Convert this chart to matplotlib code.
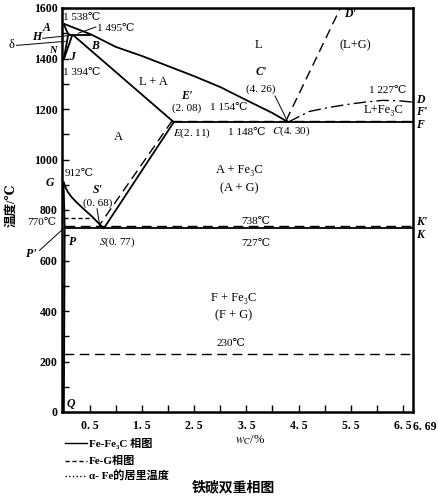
"""Fe-C double phase diagram (Fe-Fe3C solid, Fe-G dashed)."""

import matplotlib
matplotlib.use("Agg")
import matplotlib.pyplot as plt
from matplotlib.lines import Line2D
from matplotlib.ticker import MultipleLocator

plt.rcParams["font.family"] = ["Liberation Serif", "DejaVu Serif", "Noto Sans CJK SC"]
plt.rcParams["mathtext.fontset"] = "stix"

# --- Fe-Fe3C (solid) ---
liq_x = [0, 0.53, 1.0, 1.5, 2.0, 2.5, 3.0, 3.5, 4.0, 4.30]   # A-B-C liquidus
liq_T = [1538, 1495, 1446, 1410, 1370, 1330, 1287, 1235, 1184, 1148]
ah_x, ah_T = [0, 0.09], [1538, 1495]
hn_x, hn_T = [0.09, 0], [1495, 1394]
jn_x, jn_T = [0.17, 0], [1495, 1394]
hjb_x, hjb_T = [0.09, 0.53], [1495, 1495]
je_x, je_T = [0.17, 2.11], [1495, 1148]
ecf_x, ecf_T = [2.11, 6.69], [1148, 1148]
cd_x = [4.30, 4.7, 5.1, 5.5, 5.8, 6.1, 6.4, 6.69]           # dash-dot CD
cd_T = [1148, 1190, 1207, 1220, 1228, 1234, 1233, 1227]
gs_x = [0, 0.03, 0.08, 0.15, 0.25, 0.38, 0.54, 0.77]
gs_T = [912, 893, 872, 852, 830, 805, 775, 727]
gp_x, gp_T = [0, 0.0218], [912, 727]
pq_x, pq_T = [0.0218, 0.0057], [727, 0]
psk_x, psk_T = [0.0218, 6.69], [727, 727]
se_x, se_T = [0.77, 2.11], [727, 1148]

# --- Fe-G (dashed) ---
ecf_g_x, ecf_g_T = [2.08, 6.69], [1154, 1154]
cd_g_x, cd_g_T = [4.26, 5.3], [1154, 1600]
es_g_x, es_g_T = [2.08, 0.68], [1154, 738]
psk_g_x, psk_g_T = [0.02, 6.69], [738, 738]
t230_x, t230_T = [0, 6.69], [230, 230]

# --- Curie line (dotted) ---
mo_x, mo_T = [0, 0.55], [770, 770]

x_ticks = [0.5 * i for i in range(1, 14)]
x_tick_labels = ["0. 5", "", "1. 5", "", "2. 5", "", "3. 5", "", "4. 5", "",
                 "5. 5", "", "6. 5"]
y_ticks = [0, 200, 400, 600, 800, 1000, 1200, 1400, 1600]

fig = plt.figure(figsize=(4.38, 4.99), dpi=100)
ax = fig.add_axes([62 / 438, 87 / 499, 351 / 438, 404 / 499])
ax.set_xlim(-0.03, 6.69)
ax.set_ylim(0, 1600)

solid = dict(color="black", lw=1.3, solid_capstyle="butt")
dashed = dict(color="black", lw=1.0, dashes=(7, 4))

for xs, ts in [(liq_x, liq_T), (ah_x, ah_T), (hn_x, hn_T), (jn_x, jn_T),
               (hjb_x, hjb_T), (je_x, je_T), (ecf_x, ecf_T), (gs_x, gs_T),
               (gp_x, gp_T), (pq_x, pq_T), (psk_x, psk_T), (se_x, se_T)]:
    ax.plot(xs, ts, **solid)

ax.plot(cd_x, cd_T, color="black", lw=1.0, dashes=(9, 3, 1.5, 3))

for xs, ts in [(ecf_g_x, ecf_g_T), (cd_g_x, cd_g_T), (es_g_x, es_g_T),
               (psk_g_x, psk_g_T), (t230_x, t230_T)]:
    ax.plot(xs, ts, **dashed)

ax.plot(mo_x, mo_T, color="black", lw=1.0, dashes=(3, 2))

for side in ["left", "right", "top", "bottom"]:
    ax.spines[side].set_linewidth(1.8)

ax.set_xticks(x_ticks)
ax.set_xticklabels(x_tick_labels)
ax.set_yticks(y_ticks)
ax.yaxis.set_minor_locator(MultipleLocator(100))
ax.tick_params(axis="both", which="both", direction="in", length=5, width=1.0,
               labelsize=8.5, pad=3)
ax.tick_params(axis="x", pad=6)
for lab in ax.get_xticklabels() + ax.get_yticklabels():
    lab.set_fontweight("bold")
ax.text(6.69, -60, "6. 69", fontsize=8.5, fontweight="bold", ha="left", va="center",
        clip_on=False)

t_small = dict(fontsize=8, color="black", clip_on=False)
t_it = dict(fontsize=8.5, fontstyle="italic", fontweight="bold", color="black", clip_on=False)

# top-left region
ax.text(-0.01, 1564, "1 538℃", ha="left", va="center", **t_small)
ax.text(-0.33, 1521, "A", ha="center", va="center", **t_it)
ax.text(0.64, 1517, "1 495℃", ha="left", va="center", **t_small)
ax.plot([0.28, 0.62], [1500, 1525], color="black", lw=0.7, clip_on=False)
ax.text(-0.52, 1485, "H", ha="center", va="center", **t_it)
ax.plot([-0.4, 0.07], [1480, 1490], color="black", lw=0.7, clip_on=False)
ax.text(-1.0, 1452, "δ", ha="center", va="center", fontsize=9, clip_on=False)
ax.plot([-0.9, 0.03], [1452, 1468], color="black", lw=0.7, clip_on=False)
ax.text(-0.2, 1430, "N", ha="center", va="center", fontsize=7.5,
        fontstyle="italic", fontweight="bold", clip_on=False)
ax.text(0.17, 1405, "J", ha="center", va="center", **t_it)
ax.text(0.6, 1450, "B", ha="center", va="center", **t_it)
ax.text(-0.01, 1346, "1 394℃", ha="left", va="center", **t_small)

ax.text(3.74, 1453, "L", ha="center", va="center", fontsize=9)
ax.text(5.58, 1453, "(L+G)", ha="center", va="center", fontsize=9)
ax.text(1.72, 1307, "L + A", ha="center", va="center", fontsize=9)

ax.text(3.78, 1346, "C'", ha="center", va="center", **t_it)
ax.text(3.78, 1279, "(4. 26)", ha="center", va="center", **t_small)
ax.plot([4.05, 4.28], [1251, 1154], color="black", lw=0.7)
ax.text(5.48, 1576, "D'", ha="center", va="center", **t_it)
ax.text(6.21, 1275, "1 227℃", ha="center", va="center", **t_small)
ax.text(6.12, 1196, "L+Fe₃C", ha="center", va="center", fontsize=9)
ax.text(6.74, 1235, "D", ha="left", va="center", **t_it)
ax.text(6.74, 1188, "F'", ha="left", va="center", **t_it)
ax.text(6.74, 1136, "F", ha="left", va="center", **t_it)

ax.text(2.35, 1251, "E'", ha="center", va="center", **t_it)
ax.text(2.35, 1204, "(2. 08)", ha="center", va="center", **t_small)
ax.text(2.8, 1204, "1 154℃", ha="left", va="center", **t_small)
ax.text(2.1, 1105, "$E$(2. 11)", ha="left", va="center", **t_small)
ax.text(3.14, 1105, "1 148℃", ha="left", va="center", **t_small)
ax.text(3.99, 1113, "$C$(4. 30)", ha="left", va="center", **t_small)

ax.text(1.04, 1089, "A", ha="center", va="center", fontsize=9)
ax.text(3.36, 958, "A + Fe₃C", ha="center", va="center", fontsize=9)
ax.text(3.36, 887, "(A + G)", ha="center", va="center", fontsize=9)

ax.text(0.02, 946, "912℃", ha="left", va="center", **t_small)
ax.text(-0.27, 907, "G", ha="center", va="center", **t_it)
ax.text(0.66, 879, "S'", ha="center", va="center", **t_it)
ax.text(0.66, 828, "(0. 68)", ha="center", va="center", **t_small)
ax.plot([0.64, 0.69], [805, 742], color="black", lw=0.7)

ax.text(-0.14, 750, "770℃", ha="right", va="center", fontsize=8, clip_on=False)
ax.text(0.17, 673, "P", ha="center", va="center", **t_it)
ax.text(0.68, 673, "$S$(0. 77)", ha="left", va="center", **t_small)
ax.text(-0.62, 625, "P'", ha="center", va="center", **t_it)
ax.plot([-0.46, -0.01], [640, 725], color="black", lw=0.7, clip_on=False)

ax.text(3.69, 756, "738℃", ha="center", va="center", **t_small)
ax.text(3.69, 669, "727℃", ha="center", va="center", **t_small)
ax.text(6.74, 752, "K'", ha="left", va="center", **t_it)
ax.text(6.74, 701, "K", ha="left", va="center", **t_it)

ax.text(3.26, 451, "F + Fe₃C", ha="center", va="center", fontsize=9)
ax.text(3.26, 384, "(F + G)", ha="center", va="center", fontsize=9)
ax.text(3.2, 273, "230℃", ha="center", va="center", **t_small)
ax.text(0.14, 30, "Q", ha="center", va="center", **t_it)

# axis titles
fig.text(0.571, 0.119, "$w_{\\mathrm{C}}$/%", ha="center", va="center", fontsize=9)
fig.text(0.027, 0.589, "温度/℃", rotation=90, ha="center", va="center",
         fontsize=9, fontweight="bold")

# legend
leg_y = [0.112, 0.076, 0.046]
leg_txt = ["Fe-Fe₃C 相图", "Fe-G相图", "α- Fe的居里温度"]
leg_style = [dict(ls="-"), dict(dashes=(3, 2)), dict(ls=":")]
for y, txt, st in zip(leg_y, leg_txt, leg_style):
    fig.add_artist(Line2D([0.148, 0.198], [y, y], color="black", lw=1.0,
                          transform=fig.transFigure, **st))
    fig.text(0.203, y, txt, ha="left", va="center", fontsize=8, fontweight="bold")

fig.text(0.532, 0.024, "铁碳双重相图", ha="center", va="center", fontsize=10,
         fontweight="bold")

fig.savefig("out.png", dpi=100, facecolor="white")
